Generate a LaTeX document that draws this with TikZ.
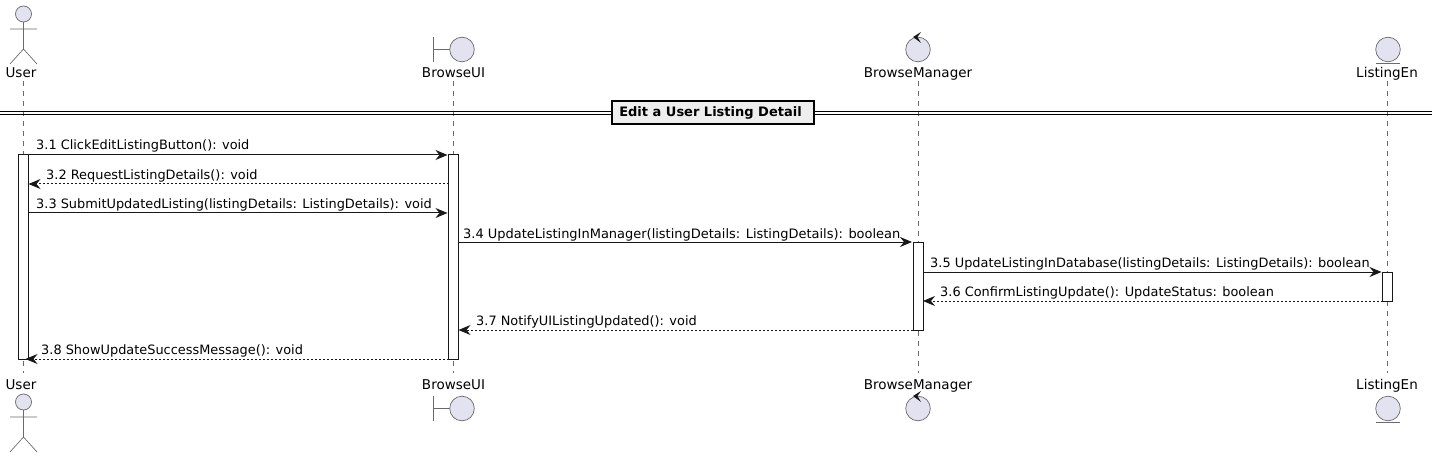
\documentclass[tikz,border=0pt]{standalone}
\usepackage{fontspec}
\setmainfont{DejaVu Sans}
\usetikzlibrary{arrows.meta}
\definecolor{ink}{HTML}{181818}
\definecolor{soft}{HTML}{6A6A6A}
\definecolor{lilac}{HTML}{E2E2F0}
\definecolor{titlebg}{HTML}{EEEEEE}
\tikzset{
  x=1pt,y=-1pt,
  lifeline/.style={draw=soft,line width=.7pt,dash pattern=on 5pt off 5pt},
  part/.style={draw=soft,line width=.7pt,fill=lilac},
  partline/.style={draw=soft,line width=.7pt},
  bar/.style={draw=ink,line width=1pt,fill=white,minimum width=10pt,inner sep=0pt,outer sep=0pt},
  msg/.style={draw=ink,line width=1pt,-{Stealth[length=12pt,width=10pt,inset=4pt]}},
  ret/.style={msg,dash pattern=on 2pt off 2pt},
  lbl/.style={anchor=base west,font=\fontsize{12.9}{15}\selectfont,inner sep=0pt,text=black},
  who/.style={anchor=base,font=\fontsize{13.5}{15}\selectfont,inner sep=0pt,text=black},
}
\newcommand{\actorfig}[2]{%
  \draw[part] (#1,#2) circle (8);
  \draw[partline] (#1,#2+8) -- (#1,#2+35) (#1-13.5,#2+15) -- (#1+13.5,#2+15)
    (#1-13.5,#2+50) -- (#1,#2+35) -- (#1+13.5,#2+50);}
\newcommand{\boundaryfig}[2]{%
  \draw[partline] (#1-29,#2-12.5) -- (#1-29,#2+12.5) (#1-29,#2) -- (#1-12,#2);
  \draw[part] (#1,#2) circle (12.3);}
\newcommand{\controlfig}[2]{%
  \draw[part] (#1,#2) circle (12.3);
  \fill[ink] (#1-5,#2-12.5) -- (#1+3,#2-17.5) -- (#1-.5,#2-12.5) -- (#1+3,#2-6.5) -- cycle;}
\newcommand{\entityfig}[2]{%
  \draw[part] (#1,#2) circle (12.3);
  \draw[partline] (#1-12,#2+14) -- (#1+12,#2+14);}
\begin{document}
\begin{tikzpicture}
\useasboundingbox (0,0) rectangle (1432,457);
% lifelines
\coordinate (uT) at (23.5,81);  \coordinate (uB) at (23.5,373);
\coordinate (iT) at (453.5,81); \coordinate (iB) at (453.5,373);
\coordinate (mT) at (918,81);   \coordinate (mB) at (918,373);
\coordinate (eT) at (1387.5,81);  \coordinate (eB) at (1387.5,373);
\draw[lifeline] (uT) -- (uB);
\draw[lifeline] (iT) -- (iB);
\draw[lifeline] (mT) -- (mB);
\draw[lifeline] (eT) -- (eB);
% participants
\actorfig{23.5}{14}
\boundaryfig{462}{49.5}
\controlfig{918}{49.5}
\entityfig{1388}{49.5}
\actorfig{23.5}{402}
\boundaryfig{462}{408.5}
\controlfig{918}{408.5}
\entityfig{1388}{408.5}
\node[who] (tUser) at (21,78) {User};
\node[who] (tUI) at (453.5,78) {BrowseUI};
\node[who] (tMgr) at (918,78) {BrowseManager};
\node[who] (tEnt) at (1387,78) {ListingEn};
\node[who] (bUser) at (21,389) {User};
\node[who] (bUI) at (453.5,389) {BrowseUI};
\node[who] (bMgr) at (918,389) {BrowseManager};
\node[who] (bEnt) at (1387,389) {ListingEn};
% divider
\coordinate (dL) at (0,111.5); \coordinate (dR) at (1432,111.5);
\coordinate (dL2) at (0,114.5); \coordinate (dR2) at (1432,114.5);
\draw[black,line width=1.2pt] (dL) -- (dR);
\draw[black,line width=1.2pt] (dL2) -- (dR2);
\node[draw=black,line width=2pt,fill=titlebg,inner sep=0pt,minimum width=202pt,minimum height=23pt,font=\bfseries\fontsize{13}{15}\selectfont] (frame) at (713,112.5) {\hspace*{-5pt}Edit a User Listing Detail};
% activations
\node[bar,minimum height=204pt] (aUser) at (23.5,257) {};
\node[bar,minimum height=204pt] (aUI) at (453.5,257) {};
\node[bar,minimum height=88pt] (aMgr) at (918,286) {};
\node[bar,minimum height=29pt] (aEnt) at (1387.5,286.5) {};
% message rows
\coordinate (y1) at (0,155); \coordinate (y2) at (0,184); \coordinate (y3) at (0,213);
\coordinate (y4) at (0,242); \coordinate (y5) at (0,272); \coordinate (y6) at (0,301);
\coordinate (y7) at (0,330); \coordinate (y8) at (0,359);
\draw[msg] (aUser.east |- y1) -- ([xshift=-1pt]aUI.west |- y1);
\draw[ret] (aUI.west |- y2) -- (aUser.east |- y2);
\draw[msg] (aUser.east |- y3) -- ([xshift=-1pt]aUI.west |- y3);
\draw[msg] (aUI.east |- y4) -- ([xshift=-1pt]aMgr.west |- y4);
\draw[msg] (aMgr.east |- y5) -- ([xshift=-1pt]aEnt.west |- y5);
\draw[ret] (aEnt.west |- y6) -- (aMgr.east |- y6);
\draw[ret] (aMgr.west |- y7) -- (aUI.east |- y7);
\draw[ret] (aUI.west |- y8) -- ([xshift=2pt]aUser.center |- y8);
% labels
\node[lbl] (l1) at (36,150) {3.1 ClickEditListingButton(): void};
\node[lbl] (l2) at (46,180) {3.2 RequestListingDetails(): void};
\node[lbl] (l3) at (36,209) {3.3 SubmitUpdatedListing(listingDetails: ListingDetails): void};
\node[lbl,font=\fontsize{12.98}{15}\selectfont] (l4) at (463,238) {3.4 UpdateListingInManager(listingDetails: ListingDetails): boolean};
\node[lbl] (l5) at (930,267) {3.5 UpdateListingInDatabase(listingDetails: ListingDetails): boolean};
\node[lbl] (l6) at (940,296) {3.6 ConfirmListingUpdate(): UpdateStatus: boolean};
\node[lbl] (l7) at (476,325) {3.7 NotifyUIListingUpdated(): void};
\node[lbl] (l8) at (41,354) {3.8 ShowUpdateSuccessMessage(): void};
\end{tikzpicture}
\end{document}
